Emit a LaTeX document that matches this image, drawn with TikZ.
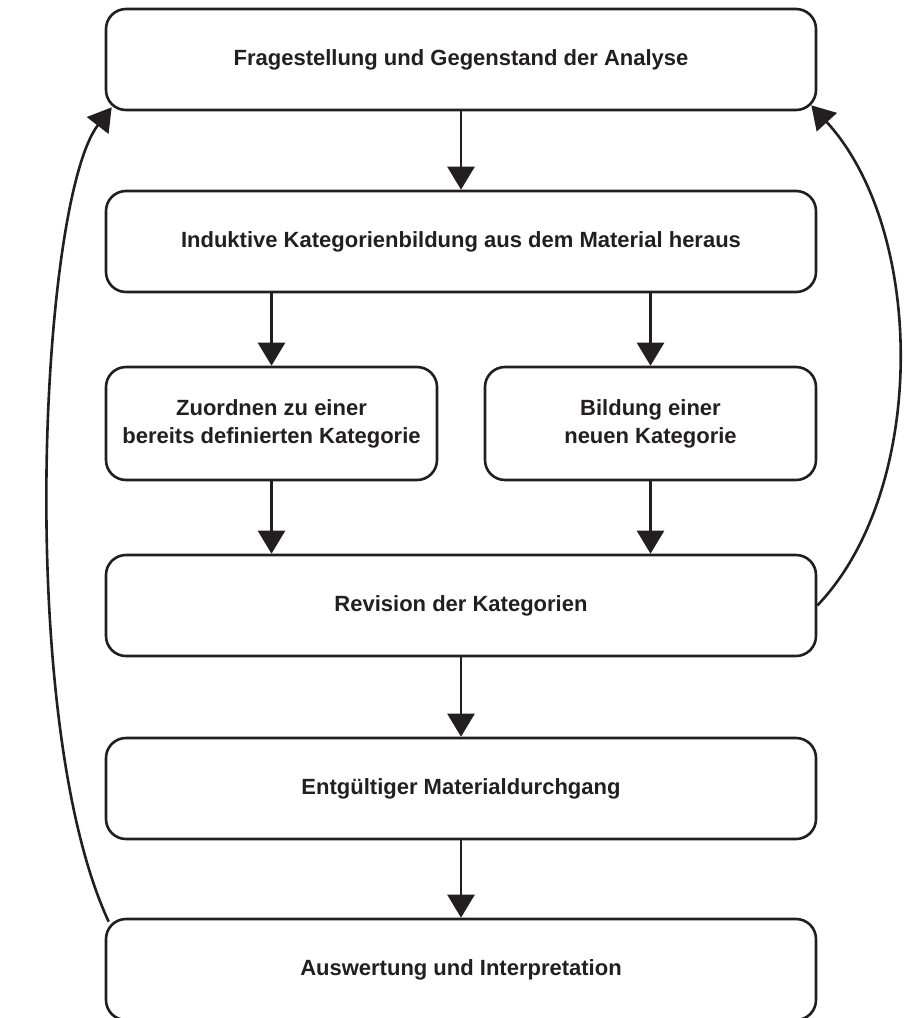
\documentclass[tikz,border=0pt]{standalone}
\usepackage{fontspec}
\setmainfont{Liberation Sans}
\usetikzlibrary{arrows.meta}
\definecolor{ink}{HTML}{231F20}
\begin{document}
\begin{tikzpicture}[x=1pt,y=-1pt,
  box/.style={draw=ink, line width=2.6pt, rounded corners=20pt, align=center,
    font=\fontsize{22}{28}\selectfont\bfseries, text=ink, inner sep=0pt},
  wide/.style={box, minimum width=710pt, minimum height=101pt},
  half/.style={box, minimum width=331pt, minimum height=113pt},
  arr/.style={draw=ink, line width=2.6pt, -{Triangle[width=27pt,length=23pt]}}]
\useasboundingbox (0,0) rectangle (904,1018);
\node[wide] (b1) at (461,59.5) {Fragestellung und Gegenstand der Analyse};
\node[wide] (b2) at (461,241.5) {Induktive Kategorienbildung aus dem Material heraus};
\node[half] (bl) at (271.5,423.5) {Zuordnen zu einer\\bereits definierten Kategorie};
\node[half] (br) at (650.5,423.5) {Bildung einer\\neuen Kategorie};
\node[wide] (b4) at (461,605.5) {Revision der Kategorien};
\node[wide] (b5) at (461,788.5) {Entgültiger Materialdurchgang};
\node[wide] (b6) at (461,969.5) {Auswertung und Interpretation};
\draw[arr] (b1.south) -- (b2.north);
\draw[arr] (bl.north |- b2.south) -- (bl.north);
\draw[arr] (br.north |- b2.south) -- (br.north);
\draw[arr] (bl.south) -- (bl.south |- b4.north);
\draw[arr] (br.south) -- (br.south |- b4.north);
\draw[arr] (b4.south) -- (b5.north);
\draw[arr] (b5.south) -- (b6.north);
\draw[arr] (b4.east) .. controls (928,490) and (926,230) .. ([xshift=-6pt,yshift=6pt]b1.south east);
\draw[arr] ([xshift=4pt,yshift=-4pt]b6.north west) .. controls (15,720) and (40,200) .. ([xshift=7pt,yshift=4pt]b1.south west);
\end{tikzpicture}
\end{document}
